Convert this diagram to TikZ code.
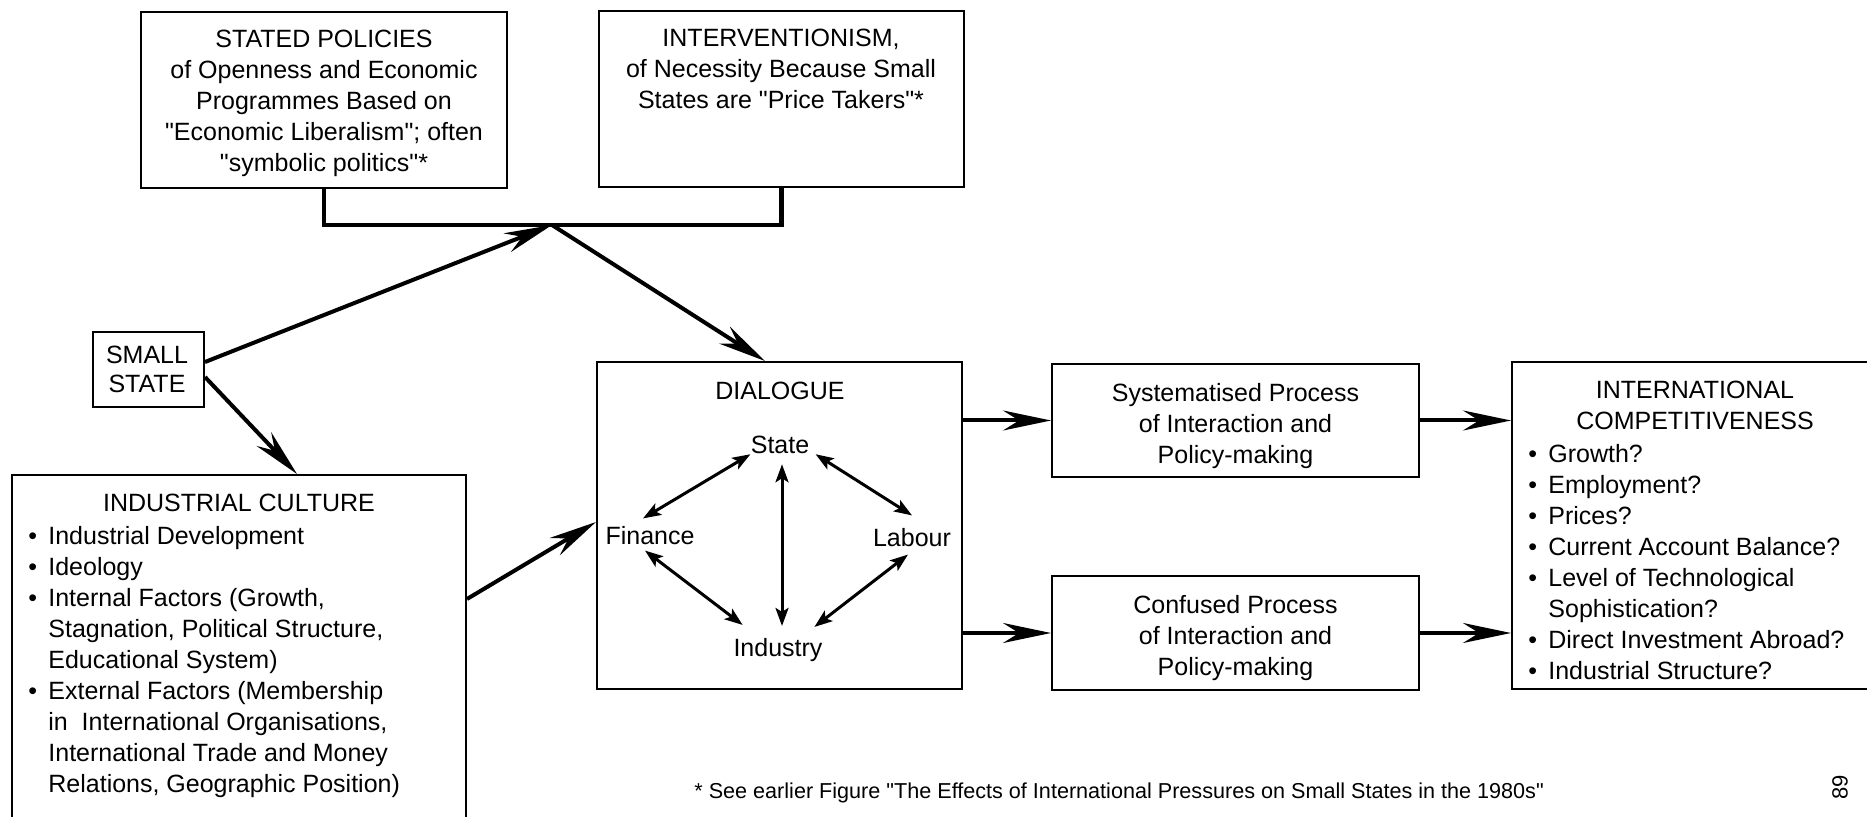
\documentclass[tikz,border=0pt]{standalone}
\usepackage{fontspec}
\setmainfont{Liberation Sans}[Ligatures=TeXOff]
\usetikzlibrary{arrows.meta,fit}
\newcommand{\mybul}{\makebox[10pt][l]{•}}
\newcommand{\myind}{\hspace*{10pt}}
\begin{document}
\begin{tikzpicture}[x=0.5pt,y=-0.5pt,
  box/.style={draw, line width=1pt, inner sep=0pt},
  txt/.style={inner sep=0pt, align=center, font=\fontsize{12.5}{15.5}\selectfont},
  ltxt/.style={inner sep=0pt, align=left, font=\fontsize{12.5}{15.5}\selectfont},
  arr/.style={line width=2pt, -{Stealth[length=24pt,width=10pt,inset=8pt]}},
  darr/.style={line width=1.5pt, {Stealth[length=9pt,width=6.5pt,inset=2pt]}-{Stealth[length=9pt,width=6.5pt,inset=2pt]}},
  brk/.style={line width=2.2pt}
]
\useasboundingbox (0,0) rectangle (1867,817);
\clip (0,0) rectangle (1867,817);
\fill[white] (0,0) rectangle (1867,817);

% top boxes
\node[box, fit={(141,12)(507,188)}] (stated) {};
\node[txt, anchor=north] (statedt) at (324,30) {STATED POLICIES\\of Openness and Economic\\Programmes Based on\\"Economic Liberalism"; often\\"symbolic politics"*};

\node[box, fit={(599,11)(964,187)}] (intv) {};
\node[txt, anchor=north] (intvt) at (781,29) {INTERVENTIONISM,\\of Necessity Because Small\\States are "Price Takers"*};

\coordinate (apex) at (552,225);
\draw[brk] (stated.south) |- (apex) -| (intv.south);

% small state
\node[box, fit={(93,332)(204,407)}] (small) {};
\node[txt, font=\fontsize{12.5}{14.5}\selectfont] (smallt) at (147,369) {SMALL\\STATE};

% industrial culture
\node[box, fit={(12,475)(466,840)}] (indus) {};
\node[txt, anchor=north] (indust) at (239,494) {INDUSTRIAL CULTURE};
\node[ltxt, anchor=north west] (indusl) at (28,526) {\mybul Industrial Development\\ \mybul Ideology\\ \mybul Internal Factors (Growth,\\ \myind Stagnation, Political Structure,\\ \myind Educational System)\\ \mybul External Factors (Membership\\ \myind in\ \ International Organisations,\\ \myind International Trade and Money\\ \myind Relations, Geographic Position)};

% dialogue
\node[box, fit={(597,362)(962,689)}] (dial) {};
\node[txt, anchor=base] (dialt) at (780,400) {DIALOGUE};
\node[txt] (st) at (780,445) {State};
\node[txt] (fin) at (650,536) {Finance};
\node[txt] (lab) at (912,538) {Labour};
\node[txt] (ind) at (778,650) {Industry};
\draw[darr] (st.south west) -- ([xshift=-3.5pt,yshift=4pt]fin.north);
\draw[darr] ([xshift=3pt]st.south east) -- ([yshift=6.5pt]lab.north);
\draw[darr] ([xshift=1pt,yshift=-5pt]st.south) -- ([xshift=1pt,yshift=6pt]st.south |- ind.north);
\draw[darr] ([xshift=-2.5pt,yshift=-2.5pt]fin.south) -- ([xshift=4.75pt,yshift=6.5pt]ind.north west);
\draw[darr] ([xshift=-2pt,yshift=-3.5pt]lab.south) -- ([xshift=-4.25pt,yshift=5.5pt]ind.north east);

% process boxes
\node[box, fit={(1052,364)(1419,477)}] (syst) {};
\node[txt] (systt) at ([yshift=-3pt]syst.center) {Systematised Process\\of Interaction and\\Policy-making};
\node[box, fit={(1052,576)(1419,690)}] (conf) {};
\node[txt] (conft) at ([yshift=-2.5pt]conf.center) {Confused Process\\of Interaction and\\Policy-making};

% international competitiveness
\node[box, fit={(1512,362)(1878,689)}] (intl) {};
\node[txt, anchor=north] (intlt) at (1695,381) {INTERNATIONAL\\COMPETITIVENESS};
\node[ltxt, anchor=north west] (intll) at (1528,444) {\mybul Growth?\\ \mybul Employment?\\ \mybul Prices?\\ \mybul Current Account Balance?\\ \mybul Level of Technological\\ \myind Sophistication?\\ \mybul Direct Investment Abroad?\\ \mybul Industrial Structure?};

% connectors
\draw[arr] ([yshift=3.75pt]small.east) -- (apex);
\draw[arr] ([yshift=-3.75pt]small.east) -- ([xshift=29pt]indus.north);
\draw[arr] (apex) -- ([xshift=-7.25pt]dial.north);
\draw[arr] ([yshift=-62.5pt]indus.north east) -- ([yshift=1.75pt]dial.west);
\draw[arr] (dial.east |- syst.west) -- (syst.west);
\draw[arr] (dial.east |- conf.west) -- (conf.west);
\draw[arr] (syst.east) -- (syst.east -| intl.west);
\draw[arr] (conf.east) -- (conf.east -| intl.west);

% footnote and page number
\node[anchor=base west, inner sep=0pt, font=\fontsize{10.8}{13}\selectfont] (foot) at (694,798) {* See earlier Figure "The Effects of International Pressures on Small States in the 1980s"};
\node[rotate=90, inner sep=0pt, font=\fontsize{11}{13}\selectfont] (pg) at (1840,787) {89};
\end{tikzpicture}
\end{document}
